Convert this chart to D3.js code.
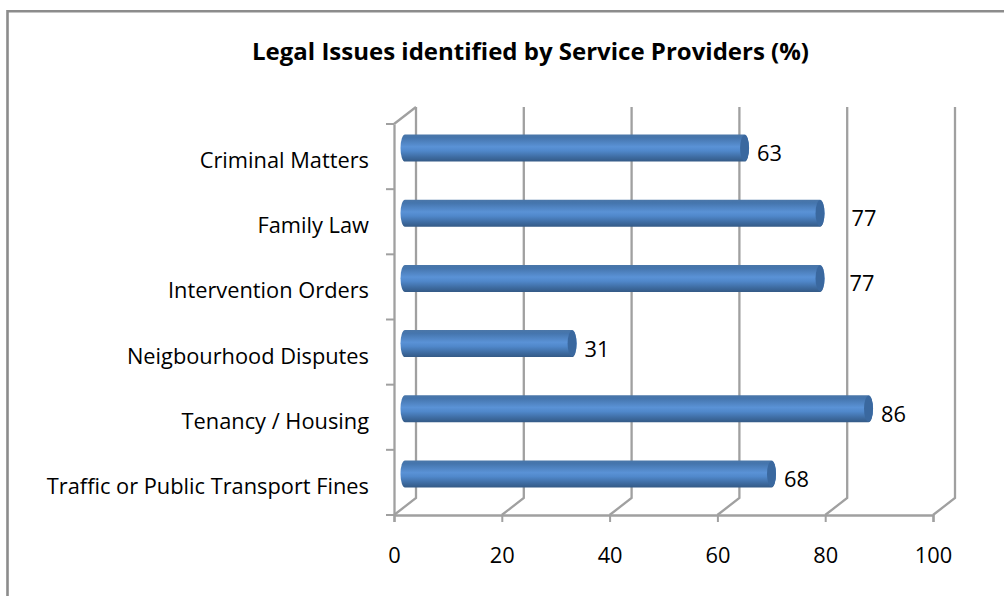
<!DOCTYPE html>
<html><head><meta charset="utf-8">
<script src="https://cdn.jsdelivr.net/npm/d3@7"></script>
<style>html,body{margin:0;padding:0;background:#fff}svg{display:block}text{font-family:"Open Sans",sans-serif;fill:#000;font-variant-ligatures:none}</style>
</head><body><div id="c"></div>
<script>
const categories = ["Criminal Matters","Family Law","Intervention Orders","Neigbourhood Disputes","Tenancy / Housing","Traffic or Public Transport Fines"];
const values = [63,77,77,31,86,68];
const labelNudge = [0,19,17,0,0,0];
const xTicks = [0,20,40,60,80,100];
const title = "Legal Issues identified by Service Providers (%)";

const W=1004,H=596;
const x0=394,x1=933,yTop=124,yBot=515,dx=22,dy=-17;
const svg=d3.select("#c").append("svg").attr("width",W).attr("height",H);
const defs=svg.append("defs");
const g=defs.append("linearGradient").attr("id","cyl").attr("x1",0).attr("x2",0).attr("y1",0).attr("y2",1);
[[0,"#4a76a8"],[0.12,"#4575ad"],[0.45,"#5a92d6"],[0.6,"#5088cb"],[0.85,"#3d6a9f"],[1,"#345a86"]].forEach(s=>g.append("stop").attr("offset",s[0]).attr("stop-color",s[1]));

const x=d3.scaleLinear().domain([0,100]).range([x0,x1]);
const y=d3.scaleBand().domain(categories).range([yTop,yBot]);
const grid="#a0a0a0";
const fs="21.8px";

// frame
svg.append("path").attr("d","M7.5,596V11.2H1004").attr("fill","none").attr("stroke","#8c8c8c").attr("stroke-width",2.6);

// walls
const gw=svg.append("g").attr("fill","none").attr("stroke",grid).attr("stroke-width",2.3);
xTicks.forEach(t=>{
  gw.append("path").attr("d",`M${x(t)},${yBot}L${x(t)+dx},${yBot+dy}V${yTop+dy}`);
});
gw.append("path").attr("d",`M${x0},${yTop}L${x0+dx},${yTop+dy}`);

// axes
const ax=svg.append("g").attr("transform",`translate(0,${yBot})`).call(d3.axisBottom(x).tickValues(xTicks).tickSize(7).tickPadding(26).tickFormat(d3.format("d")));
const ay=svg.append("g").attr("transform",`translate(${x0},0)`).call(d3.axisLeft(y).tickSize(0).tickPadding(25));
[ax,ay].forEach(a=>{a.select(".domain").attr("stroke",grid).attr("stroke-width",2.3);a.selectAll("line").attr("stroke",grid).attr("stroke-width",2);a.selectAll("text").style("font-size",fs).attr("fill","#000");});
ay.selectAll(".tick text").attr("dy","0.53em");
svg.append("g").selectAll("line").data(d3.range(categories.length+1)).join("line")
  .attr("x1",x0-8).attr("x2",x0)
  .attr("y1",i=>yTop+i*y.step()).attr("y2",i=>yTop+i*y.step())
  .attr("stroke",grid).attr("stroke-width",2);

// bars
const barH=27, off=11, rx=4.5;
const bars=svg.append("g").selectAll("g").data(categories).join("g");
const cy=c=>y(c)+y.bandwidth()/2-8.5;
bars.append("path")
  .attr("d",(c,i)=>{const xe=x(values[i])+off,t=cy(c)-barH/2,b=cy(c)+barH/2,xs=x0+off;
    return `M${xs},${t}L${xe},${t}A${rx},${barH/2} 0 0 1 ${xe},${b}L${xs},${b}A${rx},${barH/2} 0 0 1 ${xs},${t}Z`;})
  .attr("fill","url(#cyl)");
bars.append("ellipse")
  .attr("cx",(c,i)=>x(values[i])+off).attr("cy",cy)
  .attr("rx",rx).attr("ry",barH/2-0.5)
  .attr("fill","#3a689f");

// data labels
svg.append("g").selectAll("text").data(categories).join("text")
  .attr("x",(c,i)=>x(values[i])+off+rx+8+labelNudge[i])
  .attr("y",c=>cy(c)+13)
  .style("font-size",fs)
  .text((c,i)=>values[i]);

svg.append("text").attr("x",530.5).attr("y",60).attr("text-anchor","middle")
  .style("font-size","24px").style("font-weight","700").text(title);
</script></body></html>
